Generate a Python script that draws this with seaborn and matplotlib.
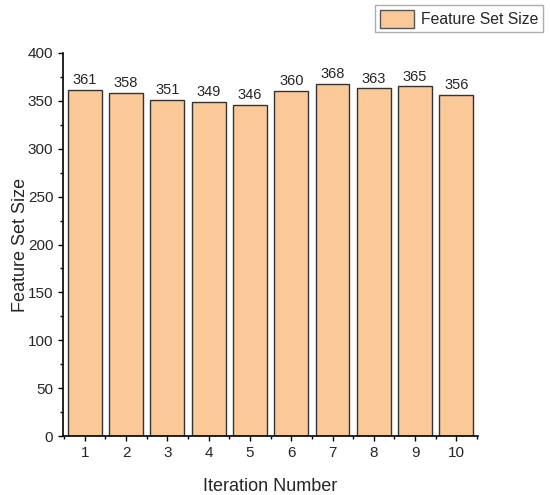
import numpy as np
import pandas as pd
import seaborn as sns
import matplotlib.pyplot as plt
from matplotlib.patches import Patch
from matplotlib.ticker import MultipleLocator

iterations = [1, 2, 3, 4, 5, 6, 7, 8, 9, 10]
feature_set_size = [361, 358, 351, 349, 346, 360, 368, 363, 365, 356]

df = pd.DataFrame({"Iteration Number": iterations, "Feature Set Size": feature_set_size})

sns.set_style("ticks")
plt.rcParams['font.family'] = ['Liberation Sans', 'DejaVu Sans']

fig = plt.figure(figsize=(5.5, 4.95), dpi=100)
ax = fig.add_axes([0.1145, 0.119, 0.755, 0.774])

bar_color = "#fbc898"
sns.barplot(data=df, x="Iteration Number", y="Feature Set Size", native_scale=True,
            color=bar_color, saturation=1, width=0.82, edgecolor="#333333", linewidth=1, ax=ax)

for x, v in zip(iterations, feature_set_size):
    ax.text(x, v + 3, str(v), ha="center", va="bottom", fontsize=10.5)

ax.set_xlim(0.47, 10.53)
ax.set_ylim(0, 400)
ax.set_xticks(iterations)
ax.xaxis.set_minor_locator(MultipleLocator(0.5))
ax.yaxis.set_major_locator(MultipleLocator(50))
ax.yaxis.set_minor_locator(MultipleLocator(25))
ax.tick_params(axis="both", which="major", direction="out", length=3.5, width=1, pad=3.5,
               labelsize=11, color="black")
ax.tick_params(axis="both", which="minor", direction="out", length=2, width=1, color="black")
for s in ["left", "bottom"]:
    ax.spines[s].set_color("black")
    ax.spines[s].set_linewidth(1.2)
sns.despine(ax=ax)

ax.set_xlabel("Iteration Number", fontsize=13, labelpad=13)
ax.set_ylabel("Feature Set Size", fontsize=13, labelpad=-1)

handle = Patch(facecolor=bar_color, edgecolor="#555555", label="Feature Set Size")
fig.legend(handles=[handle], loc="upper right", bbox_to_anchor=(0.988, 0.99), borderaxespad=0,
           fontsize=11.3, frameon=True, fancybox=False, edgecolor="#999999",
           handlelength=2.2, handleheight=1.4, handletextpad=0.45, borderpad=0.3)

fig.savefig("out.png", dpi=100)
